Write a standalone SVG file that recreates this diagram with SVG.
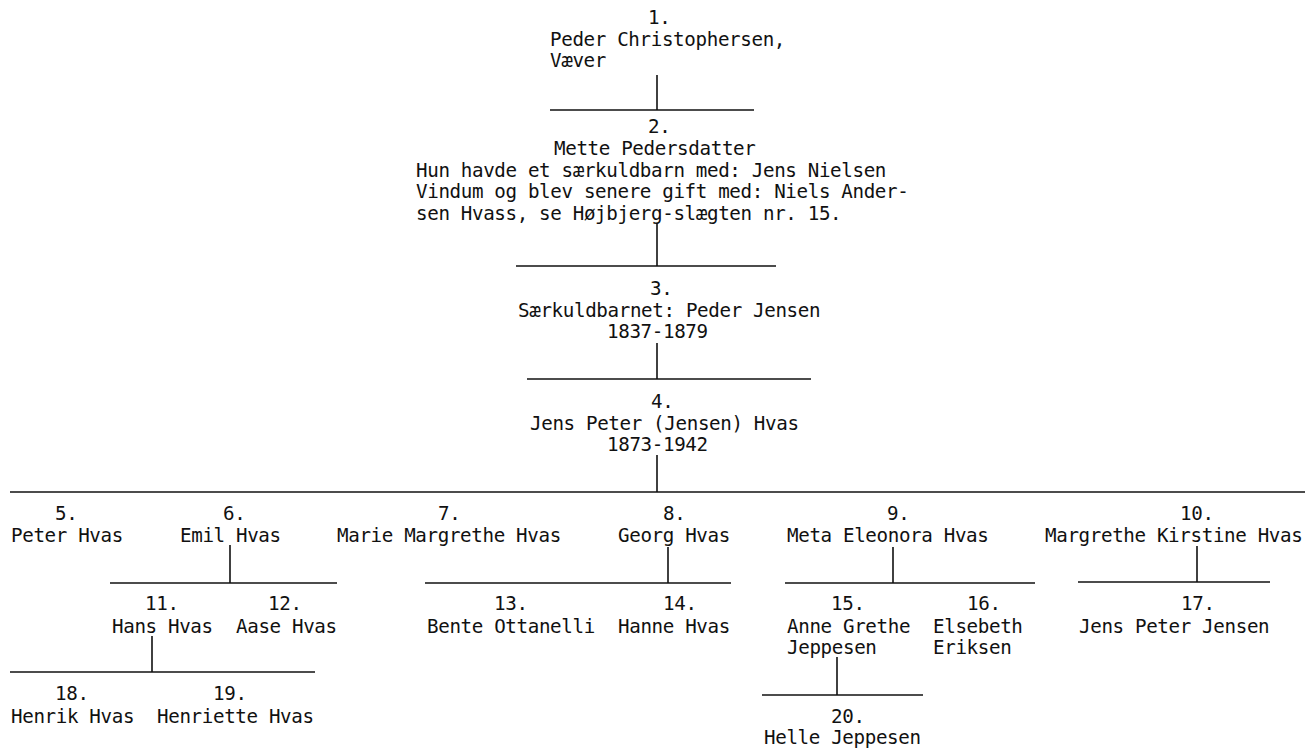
<svg xmlns="http://www.w3.org/2000/svg" width="1309" height="748" viewBox="0 0 1309 748">
<style>
text{font-family:"DejaVu Sans Mono","Liberation Mono",monospace;font-size:19.2px;letter-spacing:-0.36px;fill:#111}
.c line{stroke:#111;stroke-width:1.6}
</style>
<rect width="1309" height="748" fill="#fff"/>
<g class="c" id="connectors">
<line x1="657" y1="75" x2="657" y2="110"/><line x1="550" y1="110" x2="754" y2="110"/>
<line x1="657" y1="224" x2="657" y2="266"/><line x1="516" y1="266" x2="776" y2="266"/>
<line x1="657" y1="343" x2="657" y2="379"/><line x1="527" y1="379" x2="811" y2="379"/>
<line x1="657" y1="455" x2="657" y2="492"/><line x1="10" y1="492" x2="1305" y2="492"/>
<line x1="230" y1="545" x2="230" y2="583"/><line x1="110" y1="583" x2="337" y2="583"/>
<line x1="668" y1="547" x2="668" y2="583"/><line x1="425" y1="583" x2="731" y2="583"/>
<line x1="893" y1="547" x2="893" y2="583"/><line x1="785" y1="583" x2="1035" y2="583"/>
<line x1="1197" y1="546" x2="1197" y2="582"/><line x1="1078" y1="582" x2="1270" y2="582"/>
<line x1="152" y1="636" x2="152" y2="672"/><line x1="10" y1="672" x2="315" y2="672"/>
<line x1="837" y1="657" x2="837" y2="695"/><line x1="762" y1="695" x2="923" y2="695"/>
</g>
<g id="n1"><text x="648" y="24">1.</text><text x="550" y="46">Peder Christophersen,</text><text x="550" y="67">Væver</text></g>
<g id="n2"><text x="648" y="133">2.</text><text x="554" y="155">Mette Pedersdatter</text><text x="416" y="177">Hun havde et særkuldbarn med: Jens Nielsen</text><text x="416" y="198">Vindum og blev senere gift med: Niels Ander-</text><text x="416" y="220">sen Hvass, se Højbjerg-slægten nr. 15.</text></g>
<g id="n3"><text x="650" y="295">3.</text><text x="518" y="317">Særkuldbarnet: Peder Jensen</text><text x="607" y="338">1837-1879</text></g>
<g id="n4"><text x="651" y="408">4.</text><text x="530" y="430">Jens Peter (Jensen) Hvas</text><text x="607" y="451">1873-1942</text></g>
<g id="n5"><text x="55" y="520">5.</text><text x="11" y="542">Peter Hvas</text></g>
<g id="n6"><text x="223" y="520">6.</text><text x="180" y="542">Emil Hvas</text></g>
<g id="n7"><text x="438" y="520">7.</text><text x="337" y="542">Marie Margrethe Hvas</text></g>
<g id="n8"><text x="663" y="520">8.</text><text x="618" y="542">Georg Hvas</text></g>
<g id="n9"><text x="887" y="520">9.</text><text x="787" y="542">Meta Eleonora Hvas</text></g>
<g id="n10"><text x="1180" y="520">10.</text><text x="1045" y="542">Margrethe Kirstine Hvas</text></g>
<g id="n11"><text x="145" y="610">11.</text><text x="112" y="633">Hans Hvas</text></g>
<g id="n12"><text x="268" y="610">12.</text><text x="236" y="633">Aase Hvas</text></g>
<g id="n13"><text x="494" y="610">13.</text><text x="427" y="633">Bente Ottanelli</text></g>
<g id="n14"><text x="663" y="610">14.</text><text x="618" y="633">Hanne Hvas</text></g>
<g id="n15"><text x="831" y="610">15.</text><text x="787" y="633">Anne Grethe</text><text x="787" y="654">Jeppesen</text></g>
<g id="n16"><text x="967" y="610">16.</text><text x="933" y="633">Elsebeth</text><text x="933" y="654">Eriksen</text></g>
<g id="n17"><text x="1181" y="610">17.</text><text x="1079" y="633">Jens Peter Jensen</text></g>
<g id="n18"><text x="55" y="700">18.</text><text x="11" y="723">Henrik Hvas</text></g>
<g id="n19"><text x="213" y="700">19.</text><text x="157" y="723">Henriette Hvas</text></g>
<g id="n20"><text x="831" y="723">20.</text><text x="764" y="744">Helle Jeppesen</text></g>
</svg>
